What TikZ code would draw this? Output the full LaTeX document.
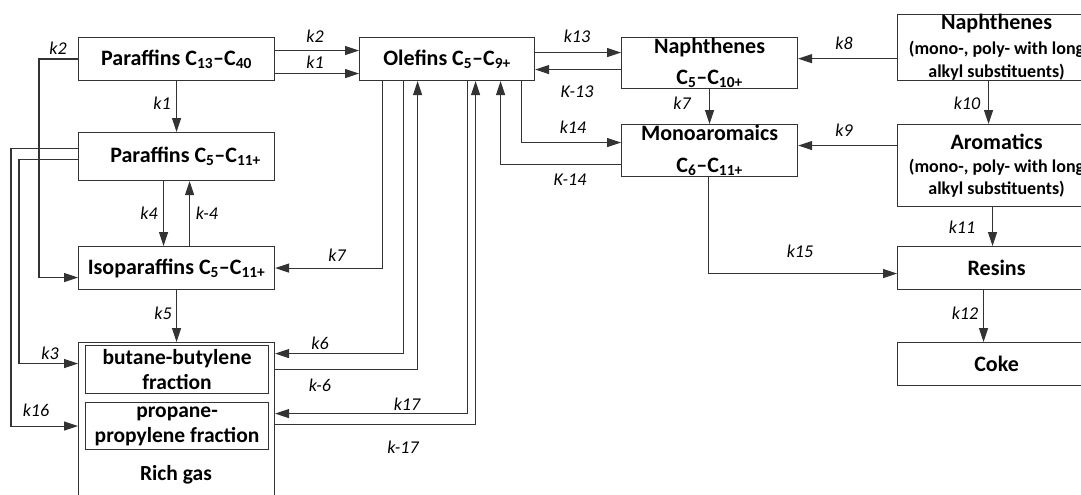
\documentclass[tikz,border=0pt]{standalone}
\usepackage{fontspec}
\setmainfont{Carlito}
\usetikzlibrary{arrows.meta,positioning}

\newcommand{\subline}{\fontsize{18}{22}\selectfont}

\begin{document}
\begin{tikzpicture}[x=1pt, y=-1pt, >={Triangle[length=14pt,width=9pt]},
    box/.style={draw=black!80, line width=1.1pt, anchor=north west,
      inner sep=0pt, align=center, font=\fontsize{22}{30}\selectfont\bfseries},
    frac/.style={box, font=\fontsize{21.5}{25}\selectfont\bfseries},
    wide/.style={box, minimum width=198pt,
      font=\fontsize{22}{25}\selectfont\bfseries},
    lbl/.style={font=\fontsize{18}{20}\selectfont\itshape, inner sep=0pt},
    arrow/.style={->, draw=black!80, line width=1.1pt} ]

    \useasboundingbox (0,0) rectangle (1081,495);
    \clip (0,0) rectangle (1081,495);

    % left column
    \node[box, minimum width=196pt, minimum height=43pt] (par40) at (78,37)
      {Paraffins C\textsubscript{13}–C\textsubscript{40}};
    \node[box, minimum width=196pt, minimum height=48pt] (par11) at (78,132)
      {\hspace*{18pt}Paraffins C\textsubscript{5}–C\textsubscript{11+}};
    \node[box, minimum width=196pt, minimum height=43pt] (iso) at (78,246)
      {Isoparaffins C\textsubscript{5}–C\textsubscript{11+}};
    \node[box, minimum width=196pt, minimum height=180pt] (rich) at (78,342) {};
    \node[frac, minimum width=183pt, minimum height=48pt] (bb) at (85,345)
      {butane-butylene\\ fraction};
    \node[frac, minimum width=183pt, minimum height=47pt] (pp) at (85,402)
      {propane-\\ propylene fraction};
    \node[font=\fontsize{21.5}{24}\selectfont\bfseries] (richtxt) at (176,475)
      {Rich gas};

    % middle
    \node[box, minimum width=175pt, minimum height=43pt] (ole) at (359,37)
      {Olefins C\textsubscript{5}–C\textsubscript{9+}};
    \node[box, minimum width=176pt, minimum height=51pt,
      font=\fontsize{22}{31}\selectfont\bfseries] (naph) at (621,37)
      {Naphthenes\\ C\textsubscript{5}–C\textsubscript{10+}};
    \node[box, minimum width=176pt, minimum height=52pt,
      font=\fontsize{22}{32}\selectfont\bfseries] (mono) at (621,124)
      {Monoaromaics\\ C\textsubscript{6}–C\textsubscript{11+}};

    % right column
    \node[wide, minimum height=66pt] (naphL) at (897,14)
      {Naphthenes\\[0pt] \subline (mono-, poly- with long\\[-2pt]
      \subline alkyl substituents)};
    \node[wide, minimum height=82pt] (aro) at (897,124)
      {Aromatics\\[-2pt] \subline (mono-, poly- with long\\[-3pt]
      \subline alkyl substituents)};
    \node[wide, minimum height=43pt] (res) at (897,246) {Resins};
    \node[wide, minimum height=43pt] (coke) at (897,342) {Coke};

    % paraffins
    \draw[arrow] ([yshift=8.5pt]par40.east) -- ([yshift=8.5pt]par40.east -| ole.west);
    \draw[arrow] ([yshift=-14.5pt]par40.east) -- ([yshift=-14.5pt]par40.east -| ole.west);
    \draw[arrow] (par40.south) -- (par11.north);
    \draw[arrow] (par40.west) -- ++(-39,0) |- ([yshift=-9.5pt]iso.west);
    \draw[arrow] ([yshift=-3pt]par11.west) -- ++(-59,0) |- ([yshift=6pt]bb.west -| rich.west);
    \draw[arrow] ([yshift=8pt]par11.west) -- ++(-67,0) |- (pp.west -| rich.west);
    \draw[arrow] ([xshift=-13pt]par11.south) -- ([xshift=-13pt]iso.north);
    \draw[arrow] ([xshift=13pt]iso.north) -- ([xshift=13pt]par11.south);
    \draw[arrow] (iso.south) -- (rich.north);

    % olefins
    \draw[arrow] ([xshift=-64.5pt]ole.south) |- (iso.east);
    \draw[arrow] ([xshift=-43.5pt]ole.south) |- ([yshift=16pt]bb.east -| rich.east);
    \draw[arrow] (bb.east -| rich.east) -| ([xshift=-29.5pt]ole.south);
    \draw[arrow] ([xshift=20.5pt]ole.south) |- ([yshift=12.5pt]pp.east -| rich.east);
    \draw[arrow] ([yshift=2pt]pp.east -| rich.east) -| ([xshift=28.5pt]ole.south);
    \draw[arrow] ([xshift=74.5pt]ole.south) |- ([yshift=8pt]mono.west);
    \draw[arrow] ([yshift=-14pt]mono.west) -| ([xshift=53.5pt]ole.south);
    \draw[arrow] ([yshift=6.5pt]ole.east) -- ([yshift=6.5pt]ole.east -| naph.west);
    \draw[arrow] ([yshift=-10.5pt]ole.east -| naph.west) -- ([yshift=-10.5pt]ole.east);

    % naphthenes and aromatics
    \draw[arrow] (naph.south) -- (mono.north);
    \draw[arrow] ([yshift=-11pt]naphL.west) -- ([yshift=-11pt]naphL.west -| naph.east);
    \draw[arrow] ([xshift=-8pt]naphL.south) -- ([xshift=-8pt]aro.north);
    \draw[arrow] ([yshift=20pt]aro.west) -- ([yshift=20pt]aro.west -| mono.east);
    \draw[arrow] ([xshift=-4pt]aro.south) -- ([xshift=-4pt]res.north);
    \draw[arrow] ([xshift=-13pt]res.south) -- ([xshift=-13pt]coke.north);
    \draw[arrow] ([xshift=-1pt]mono.south) |- ([yshift=-5.5pt]res.west);

    % rate constants
    \node[lbl] (l2a) at (315,36) {k2};
    \node[lbl] (l1a) at (315,62) {k1};
    \node[lbl] (l2b) at (58,48) {k2};
    \node[lbl] (l1b) at (162,103) {k1};
    \node[lbl] (l4) at (149,213) {k4};
    \node[lbl] (l4r) at (207,213) {k-4};
    \node[lbl] (l5) at (163,313) {k5};
    \node[lbl] (l7a) at (337,255) {k7};
    \node[lbl] (l3) at (50,353) {k3};
    \node[lbl] (l16) at (36,410) {k16};
    \node[lbl] (l6) at (320,343) {k6};
    \node[lbl] (l6r) at (320,385) {k-6};
    \node[lbl] (l17) at (407,404) {k17};
    \node[lbl] (l17r) at (403,447) {k-17};
    \node[lbl] (l13) at (577,36) {k13};
    \node[lbl] (l13r) at (577,92) {K-13};
    \node[lbl] (l14) at (573,127) {k14};
    \node[lbl] (l14r) at (570,180) {K-14};
    \node[lbl] (l7b) at (682,103) {k7};
    \node[lbl] (l8) at (844,43) {k8};
    \node[lbl] (l9) at (844,130) {k9};
    \node[lbl] (l10) at (967,103) {k10};
    \node[lbl] (l11) at (962,227) {k11};
    \node[lbl] (l12) at (965,313) {k12};
    \node[lbl] (l15) at (800,251) {k15};

\end{tikzpicture}
\end{document}
